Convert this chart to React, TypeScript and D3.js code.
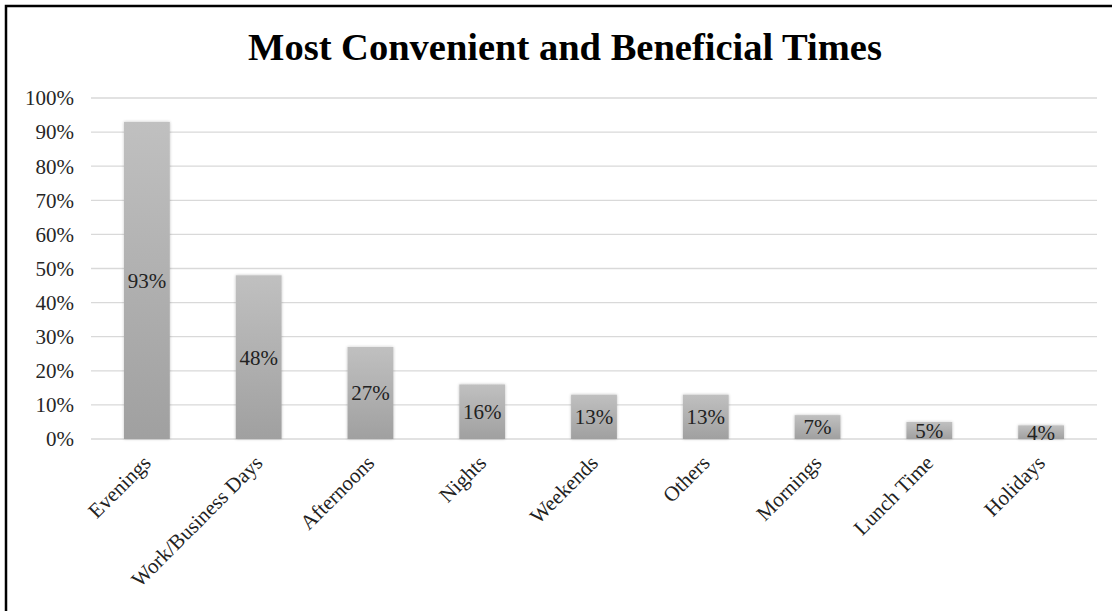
import React from "react";
import * as d3 from "d3";

const categories = ["Evenings", "Work/Business Days", "Afternoons", "Nights", "Weekends", "Others", "Mornings", "Lunch Time", "Holidays"];
const values = [0.93, 0.48, 0.27, 0.16, 0.13, 0.13, 0.07, 0.05, 0.04];
const yTicks = [0, 0.1, 0.2, 0.3, 0.4, 0.5, 0.6, 0.7, 0.8, 0.9, 1.0];
const title = "Most Convenient and Beneficial Times";

const W = 1112;
const H = 611;
const margin = { left: 91, right: 15, top: 98, bottom: 172 };

export default function App() {
  const x = d3.scaleBand<string>().domain(categories).range([margin.left, W - margin.right]).paddingInner(0.59).paddingOuter(0.295);
  const y = d3.scaleLinear().domain([0, 1]).range([H - margin.bottom, margin.top]);
  const fmt = d3.format(".0%");
  const font = "'Liberation Serif', 'Times New Roman', serif";
  return (
    <div>
      <style>{`body{margin:0}`}</style>
      <svg width={W} height={H} style={{ display: "block", background: "#fff" }}>
        <defs>
          <linearGradient id="barGrad" x1="0" y1="0" x2="0" y2="1">
            <stop offset="0%" stopColor="#c0c0c0" />
            <stop offset="100%" stopColor="#a0a0a0" />
          </linearGradient>
          <filter id="soft" x="-20%" y="-20%" width="140%" height="140%">
            <feGaussianBlur in="SourceAlpha" stdDeviation="1.5" result="b" />
            <feComponentTransfer in="b" result="s">
              <feFuncA type="linear" slope="0.25" />
            </feComponentTransfer>
            <feMerge>
              <feMergeNode in="s" />
              <feMergeNode in="SourceGraphic" />
            </feMerge>
          </filter>
        </defs>
        <rect x={6} y={6} width={W + 10} height={H + 10} fill="none" stroke="#000" strokeWidth={2.5} />
        <text x={565} y={60} textAnchor="middle" fontFamily={font} fontWeight="bold" fontSize={38.5} fill="#000">{title}</text>
        {yTicks.map((t) => (
          <g key={t}>
            <line x1={margin.left} x2={W - margin.right} y1={y(t)} y2={y(t)} stroke="#d9d9d9" strokeWidth={1.3} />
            <text x={74} y={y(t)} dy="0.35em" textAnchor="end" fontFamily={font} fontSize={21} fill="#262626">{fmt(t)}</text>
          </g>
        ))}
        {categories.map((c, i) => {
          const bx = x(c)!;
          const bw = x.bandwidth();
          const top = y(values[i]);
          const base = y(0);
          return (
            <g key={c}>
              <rect x={bx} y={top} width={bw} height={base - top} fill="url(#barGrad)" filter="url(#soft)" />
              <text x={bx + bw / 2} y={(top + base) / 2} dy="0.35em" textAnchor="middle" fontFamily={font} fontSize={21} fill="#222">{fmt(values[i])}</text>
              <text transform={`translate(${bx + bw / 2},${base + 20}) rotate(-45)`} textAnchor="end" dy="0.35em" fontFamily={font} fontSize={21} fill="#222">{c}</text>
            </g>
          );
        })}
      </svg>
    </div>
  );
}
